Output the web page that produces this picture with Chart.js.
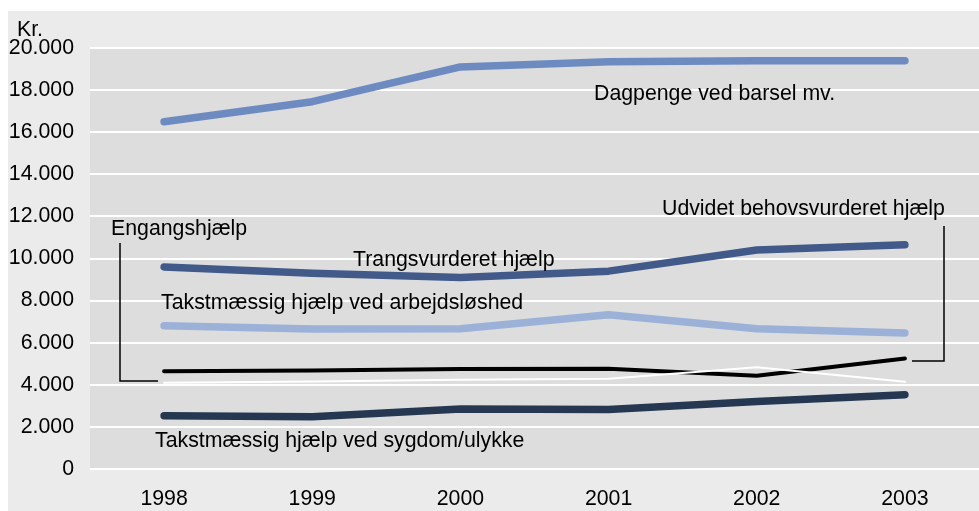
<!DOCTYPE html>
<html>
<head>
<meta charset="utf-8">
<script src="https://cdn.jsdelivr.net/npm/chart.js@4.4.1/dist/chart.umd.min.js"></script>
<style>
    body { margin: 0; background: #fff; }
    #wrap { width: 979px; height: 511px; position: relative; }
</style>
</head>
<body>
<div id="wrap"><canvas id="myChart" width="979" height="511"></canvas></div>
<script>
// data
const years = ["1998", "1999", "2000", "2001", "2002", "2003"];
const dagpenge = [16500, 17450, 19100, 19350, 19400, 19400];
const trangsvurderet = [9600, 9300, 9100, 9400, 10400, 10650];
const arbejdsloshed = [6800, 6650, 6660, 7330, 6660, 6460];
const udvidet = [4640, 4680, 4750, 4760, 4430, 5250];
const engangs = [4100, 4160, 4240, 4290, 4830, 4140];
const sygdom = [2530, 2480, 2850, 2830, 3210, 3530];
const yTicks = [0, 2000, 4000, 6000, 8000, 10000, 12000, 14000, 16000, 18000, 20000];

const font = "Liberation Sans, Arial, Helvetica, sans-serif";

// backgrounds + labels drawn on the canvas
const decor = {
    id: "decor",
    beforeDraw(chart) {
        const ctx = chart.ctx;
        const a = chart.chartArea;
        ctx.save();
        ctx.fillStyle = "#ebebeb";
        ctx.fillRect(8, 11, 971, 500);
        ctx.fillStyle = "#dddddd";
        ctx.fillRect(a.left, a.top, a.right - a.left, a.bottom - a.top);
        ctx.restore();
    },
    afterDraw(chart) {
        const ctx = chart.ctx;
        ctx.save();
        ctx.fillStyle = "#000";
        ctx.font = "21.3px " + font;
        ctx.textBaseline = "alphabetic";
        ctx.fillText("Kr.", 17, 36);
        ctx.fillText("Dagpenge ved barsel mv.", 594, 100);
        ctx.fillText("Udvidet behovsvurderet hjælp", 662, 215);
        ctx.fillText("Engangshjælp", 111, 235);
        ctx.fillText("Trangsvurderet hjælp", 353, 266);
        ctx.fillText("Takstmæssig hjælp ved arbejdsløshed", 161, 309);
        ctx.fillText("Takstmæssig hjælp ved sygdom/ulykke", 155, 447);

        // callout lines
        ctx.strokeStyle = "#000";
        ctx.lineWidth = 1.5;
        ctx.beginPath();
        ctx.moveTo(120, 243);
        ctx.lineTo(120, 381);
        ctx.lineTo(158, 381);
        ctx.moveTo(944, 226);
        ctx.lineTo(944, 361);
        ctx.lineTo(912, 361);
        ctx.stroke();
        ctx.restore();
    }
};

function line(label, data, color, width, order) {
    return {
        label: label,
        data: data,
        borderColor: color,
        backgroundColor: color,
        borderWidth: width,
        borderCapStyle: "round",
        borderJoinStyle: "round",
        pointRadius: 0,
        tension: 0,
        order: order
    };
}

new Chart(document.getElementById("myChart"), {
    type: "line",
    data: {
        labels: years,
        datasets: [
            line("Dagpenge ved barsel mv.", dagpenge, "#6d8bc0", 7.5, 6),
            line("Trangsvurderet hjælp", trangsvurderet, "#415a8a", 7.5, 5),
            line("Takstmæssig hjælp ved arbejdsløshed", arbejdsloshed, "#9bb1d8", 7.5, 4),
            line("Takstmæssig hjælp ved sygdom/ulykke", sygdom, "#263752", 7.5, 3),
            line("Udvidet behovsvurderet hjælp", udvidet, "#000000", 4, 2),
            line("Engangshjælp", engangs, "#ffffff", 2, 1)
        ]
    },
    options: {
        responsive: false,
        animation: false,
        layout: { padding: { top: 48, left: 0, right: 0, bottom: 0 } },
        plugins: {
            legend: { display: false },
            tooltip: { enabled: false }
        },
        scales: {
            x: {
                offset: true,
                grid: { display: false, drawTicks: false },
                border: { display: false },
                ticks: { color: "#000", font: { family: font, size: 21.3 }, padding: 17, maxRotation: 0 },
                afterFit(scale) { scale.height = 42; }
            },
            y: {
                min: 0,
                max: 20000,
                grid: { color: "#ffffff", lineWidth: 2, drawTicks: false },
                border: { display: false },
                afterBuildTicks(scale) { scale.ticks = yTicks.map(v => ({ value: v })); },
                ticks: {
                    color: "#000",
                    font: { family: font, size: 21.3 },
                    padding: 16,
                    callback: v => String(v).replace(/\B(?=(\d{3})+(?!\d))/g, ".")
                },
                afterFit(scale) { scale.width = 90; }
            }
        }
    },
    plugins: [decor]
});
</script>
</body>
</html>
